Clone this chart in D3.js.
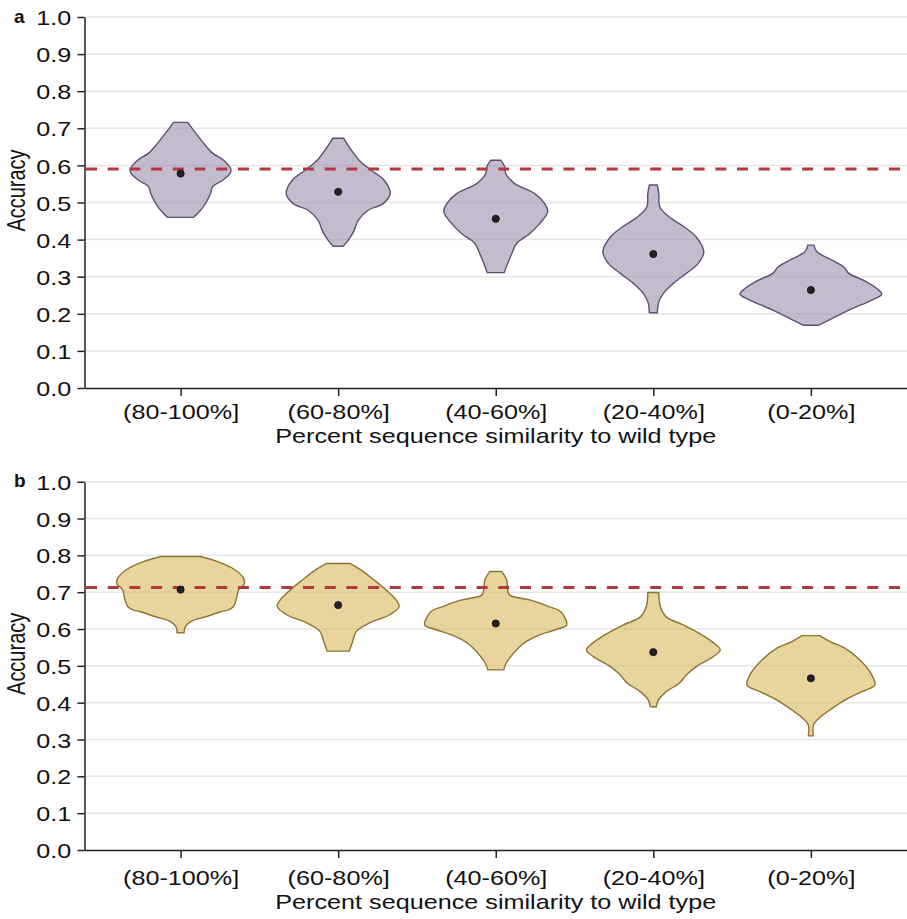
<!DOCTYPE html>
<html>
<head>
<meta charset="utf-8">
<script src="https://cdn.jsdelivr.net/npm/d3@7"></script>
<style>
  html, body { margin: 0; padding: 0; background: #fff; }
  svg { display: block; font-family: "Liberation Sans", Arial, sans-serif; }
  .axis path, .axis line { stroke: #222; stroke-width: 1.5; }
  .axis text { fill: #111; font-size: 20px; }
</style>
</head>
<body>
<div id="chart"></div>
<script>
// ---- data ----
const CATEGORIES = ['(80-100%]', '(60-80%]', '(40-60%]', '(20-40%]', '(0-20%]'];
const Y_TICKS = [0, 0.1, 0.2, 0.3, 0.4, 0.5, 0.6, 0.7, 0.8, 0.9, 1.0];
const X_TITLE = 'Percent sequence similarity to wild type';
const Y_TITLE = 'Accuracy';

const MEANS_A = [0.578, 0.529, 0.456, 0.361, 0.264];
const MEANS_B = [0.707, 0.665, 0.615, 0.537, 0.466];
const BASELINE_A = 0.59;
const BASELINE_B = 0.713;

// violin profiles: [accuracy, density] from top to bottom
const VIOLINS_A = [
  [[0.716, 0.07], [0.66, 0.23], [0.633, 0.32], [0.614, 0.43], [0.592, 0.50], [0.58, 0.50], [0.56, 0.42],
   [0.542, 0.32], [0.525, 0.30], [0.498, 0.25], [0.479, 0.20], [0.46, 0.13]],
  [[0.673, 0.055], [0.65, 0.11], [0.614, 0.21], [0.587, 0.33], [0.56, 0.46], [0.524, 0.52], [0.497, 0.45],
   [0.479, 0.30], [0.452, 0.20], [0.425, 0.16], [0.398, 0.10], [0.382, 0.05]],
  [[0.614, 0.05], [0.596, 0.09], [0.578, 0.10], [0.551, 0.19], [0.524, 0.39], [0.497, 0.49], [0.475, 0.52],
   [0.443, 0.44], [0.416, 0.34], [0.39, 0.21], [0.362, 0.16], [0.336, 0.12], [0.311, 0.085]],
  [[0.547, 0.04], [0.524, 0.055], [0.488, 0.065], [0.461, 0.16], [0.434, 0.31], [0.407, 0.43], [0.367, 0.505],
   [0.336, 0.45], [0.309, 0.33], [0.282, 0.20], [0.255, 0.10], [0.228, 0.05], [0.203, 0.04]],
  [[0.385, 0.03], [0.367, 0.06], [0.345, 0.21], [0.326, 0.33], [0.309, 0.38], [0.29, 0.53], [0.268, 0.66],
   [0.253, 0.71], [0.237, 0.61], [0.21, 0.38], [0.183, 0.18], [0.169, 0.075]],
];
const VIOLINS_B = [
  [[0.797, 0.20], [0.783, 0.37], [0.765, 0.52], [0.742, 0.62], [0.724, 0.64], [0.706, 0.58], [0.683, 0.56],
   [0.661, 0.53], [0.652, 0.48], [0.647, 0.40], [0.634, 0.26], [0.62, 0.10], [0.605, 0.045], [0.59, 0.035]],
  [[0.778, 0.117], [0.76, 0.23], [0.733, 0.36], [0.706, 0.48], [0.679, 0.58], [0.661, 0.61], [0.638, 0.51],
   [0.616, 0.31], [0.593, 0.18], [0.566, 0.145], [0.54, 0.11]],
  [[0.756, 0.06], [0.733, 0.11], [0.706, 0.12], [0.692, 0.14], [0.679, 0.34], [0.661, 0.53], [0.647, 0.65],
   [0.611, 0.71], [0.60, 0.62], [0.584, 0.44], [0.565, 0.30], [0.552, 0.24], [0.525, 0.15], [0.505, 0.10], [0.489, 0.08]],
  [[0.699, 0.055], [0.661, 0.07], [0.633, 0.13], [0.611, 0.30], [0.588, 0.46], [0.561, 0.61], [0.543, 0.67],
   [0.525, 0.60], [0.498, 0.43], [0.475, 0.33], [0.453, 0.26], [0.43, 0.13], [0.407, 0.05], [0.389, 0.03]],
  [[0.582, 0.09], [0.566, 0.19], [0.548, 0.34], [0.516, 0.49], [0.48, 0.60], [0.448, 0.64], [0.43, 0.51],
   [0.407, 0.34], [0.38, 0.19], [0.358, 0.08], [0.339, 0.025], [0.31, 0.025]],
];

// ---- layout ----
const W = 907, H = 919;
const SX = 1.26; // the figure's text is horizontally stretched
const PANELS = [
  { label: 'a', top: 17, bottom: 388, violins: VIOLINS_A, means: MEANS_A, baseline: BASELINE_A,
    fill: '#a596b4', stroke: '#5e4f72', tickY: 31.5, titleY: 55 },
  { label: 'b', top: 481.7, bottom: 850, violins: VIOLINS_B, means: MEANS_B, baseline: BASELINE_B,
    fill: '#dcbf6a', stroke: '#8b7433', tickY: 35, titleY: 59 },
];
const LEFT = 84.5;

const svg = d3.select('#chart').append('svg').attr('width', W).attr('height', H);

PANELS.forEach(p => {
  const innerW = W - LEFT, innerH = p.bottom - p.top;
  const g = svg.append('g').attr('transform', `translate(${LEFT},${p.top})`);

  const x = d3.scalePoint().domain(CATEGORIES).range([0, innerW]).padding(0.61);
  const y = d3.scaleLinear().domain([0, 1]).range([innerH, 0]);
  const w = d3.scaleLinear().domain([0, 1]).range([0, x.step() * 0.634]);

  // grid
  g.append('g').selectAll('line').data(Y_TICKS.slice(1)).join('line')
    .attr('x1', 0).attr('x2', innerW)
    .attr('y1', d => y(d)).attr('y2', d => y(d))
    .attr('stroke', '#e6e6e6').attr('stroke-width', 1.5);

  // violins
  const area = d3.area().curve(d3.curveCatmullRom)
    .y(d => y(d[0]));
  g.append('g').selectAll('path').data(p.violins).join('path')
    .attr('d', (prof, i) => area
      .x0(d => x(CATEGORIES[i]) - w(d[1]))
      .x1(d => x(CATEGORIES[i]) + w(d[1]))(prof))
    .attr('fill', p.fill).attr('fill-opacity', 0.65)
    .attr('stroke', p.stroke).attr('stroke-width', 1.4);

  // reference line
  g.append('line')
    .attr('x1', 1.5).attr('x2', innerW)
    .attr('y1', y(p.baseline)).attr('y2', y(p.baseline))
    .attr('stroke', '#b2393b').attr('stroke-width', 3)
    .attr('stroke-dasharray', '11 10.7');

  // means
  g.append('g').selectAll('circle').data(p.means).join('circle')
    .attr('cx', (d, i) => x(CATEGORIES[i])).attr('cy', d => y(d))
    .attr('r', 3.6).attr('fill', '#222').attr('stroke', '#111').attr('stroke-width', 0.8);

  // axes
  const ya = g.append('g').attr('class', 'axis')
    .call(d3.axisLeft(y).tickValues(Y_TICKS).tickFormat(d3.format('.1f')).tickSize(7).tickSizeOuter(0));
  ya.selectAll('text').attr('x', -13.3 / SX).attr('dy', '0.38em').attr('transform', `scale(${SX},1)`);

  const xa = g.append('g').attr('class', 'axis').attr('transform', `translate(0,${innerH})`)
    .call(d3.axisBottom(x).tickSize(8).tickSizeOuter(0));
  xa.selectAll('text').attr('y', p.tickY).attr('dy', 0).attr('transform', `scale(${SX},1)`);

  g.append('text')
    .attr('transform', `translate(${innerW / 2},${innerH + p.titleY}) scale(${SX},1)`)
    .attr('text-anchor', 'middle').attr('font-size', 20).attr('fill', '#111')
    .text(X_TITLE);

  g.append('text')
    .attr('transform', `translate(${25 - LEFT},${innerH / 2 - 12}) scale(${SX},1) rotate(-90)`)
    .attr('text-anchor', 'middle').attr('font-size', 20).attr('fill', '#111')
    .text(Y_TITLE);

  svg.append('text')
    .attr('x', 14).attr('y', p.top + 5.5)
    .attr('font-size', 19).attr('font-weight', 'bold').attr('fill', '#111')
    .text(p.label);
});
</script>
</body>
</html>
